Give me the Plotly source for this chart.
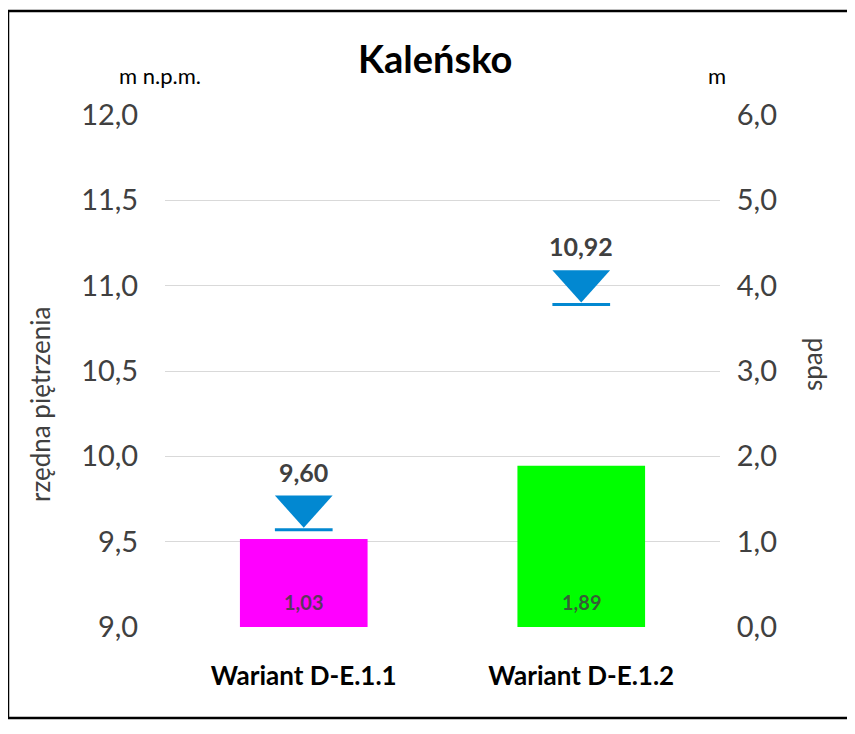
import plotly.graph_objects as go

categories = ["Wariant D-E.1.1", "Wariant D-E.1.2"]
spad = [1.03, 1.89]                 # bars, right axis (m)
rzedna = [9.60, 10.92]              # water level markers, left axis (m n.p.m.)
bar_colors = ["#ff00ff", "#00ff00"]
left_ticks = [9.0, 9.5, 10.0, 10.5, 11.0, 11.5, 12.0]
right_ticks = [0.0, 1.0, 2.0, 3.0, 4.0, 5.0, 6.0]

def fmt(v, d):
    return f"{v:.{d}f}".replace(".", ",")

FONT = "Lato"
GRAY = "#404040"

# page has an 8px body margin; work in reference-pixel coords and convert
OFF = 8
W, H = 855 - OFF, 734 - OFF
L, R, T, B = 165 - OFF, 855 - 720, 115 - OFF, 734 - 627
pw, ph = W - L - R, H - T - B

def px_x(px):
    return (px - OFF - L) / pw

def px_y(py):
    return (H - B - (py - OFF)) / ph

xs = list(range(len(categories)))
fig = go.Figure()

# bars on right axis
fig.add_trace(go.Bar(x=xs, y=spad, yaxis="y2", width=0.46,
                     marker=dict(color=bar_colors, line=dict(width=0)),
                     showlegend=False, hoverinfo="skip"))

# water-level triangles on left axis
hw = 0.104
top_off = 0.17
tip_off = 0.018
line_off = 0.03
for i, v in zip(xs, rzedna):
    fig.add_trace(go.Scatter(
        x=[i - hw, i + hw, i, i - hw],
        y=[v + top_off, v + top_off, v - tip_off, v + top_off],
        mode="lines", fill="toself", fillcolor="#0288d1",
        line=dict(width=0, color="#0288d1"), showlegend=False, hoverinfo="skip"))
    fig.add_trace(go.Scatter(
        x=[i - hw, i + hw], y=[v - line_off, v - line_off],
        mode="lines", line=dict(width=3, color="#0288d1"),
        showlegend=False, hoverinfo="skip"))

annotations = []
for i, v in zip(xs, rzedna):
    annotations.append(dict(x=i, y=v, xref="x", yref="y", text=f"<b>{fmt(v, 2)}</b>",
                            showarrow=False, yshift=53,
                            font=dict(family=FONT, size=25, color=GRAY)))
for i, v in zip(xs, spad):
    annotations.append(dict(x=i, y=0, xref="x", yref="y2", text=f"<b>{fmt(v, 2)}</b>",
                            showarrow=False, yshift=25,
                            font=dict(family=FONT, size=20, color="rgba(64,64,64,0.85)")))

annotations += [
    dict(x=px_x(435), y=px_y(58), text="<b>Kaleńsko</b>",
         font=dict(family=FONT, size=38, color="black")),
    dict(x=px_x(160), y=px_y(75), text="m n.p.m.",
         font=dict(family=FONT, size=22, color="black")),
    dict(x=px_x(717), y=px_y(75), text="m",
         font=dict(family=FONT, size=22, color="black")),
    dict(x=px_x(40), y=px_y(405), text="rzędna piętrzenia", textangle=-90,
         font=dict(family=FONT, size=26, color=GRAY)),
    dict(x=px_x(812), y=px_y(365), text="spad", textangle=-90,
         font=dict(family=FONT, size=26, color=GRAY)),
]
for a in annotations[-5:]:
    a.update(xref="paper", yref="paper", xanchor="center", yanchor="middle",
             showarrow=False)

fig.update_layout(
    width=W, height=H,
    margin=dict(l=L, r=R, t=T, b=B),
    paper_bgcolor="white", plot_bgcolor="white",
    showlegend=False,
    xaxis=dict(range=[-0.5, len(categories) - 0.5], tickvals=xs,
               ticktext=[f"<b>{c}</b>" for c in categories],
               tickfont=dict(family=FONT, size=26, color="black"),
               showgrid=False, zeroline=False, showline=False,
               ticks="outside", ticklen=26, tickcolor="rgba(0,0,0,0)"),
    yaxis=dict(range=[left_ticks[0], left_ticks[-1]], tickvals=left_ticks,
               ticktext=[fmt(t, 1) for t in left_ticks],
               tickfont=dict(family=FONT, size=29, color=GRAY),
               showgrid=True, gridcolor="#d9d9d9", gridwidth=1,
               zeroline=False, showline=False,
               ticks="outside", ticklen=20, tickcolor="rgba(0,0,0,0)"),
    yaxis2=dict(range=[right_ticks[0], right_ticks[-1]], tickvals=right_ticks,
                ticktext=[fmt(t, 1) for t in right_ticks],
                tickfont=dict(family=FONT, size=29, color=GRAY),
                overlaying="y", side="right", showgrid=False, zeroline=False,
                showline=False, ticks="outside", ticklen=10,
                tickcolor="rgba(0,0,0,0)"),
    annotations=annotations,
    shapes=[dict(type="rect", xref="paper", yref="paper",
                 x0=px_x(8), x1=px_x(880), y0=px_y(718), y1=px_y(11),
                 line=dict(color="black", width=2.5), fillcolor="rgba(0,0,0,0)",
                 layer="below")],
)

fig.write_html("out.html")
